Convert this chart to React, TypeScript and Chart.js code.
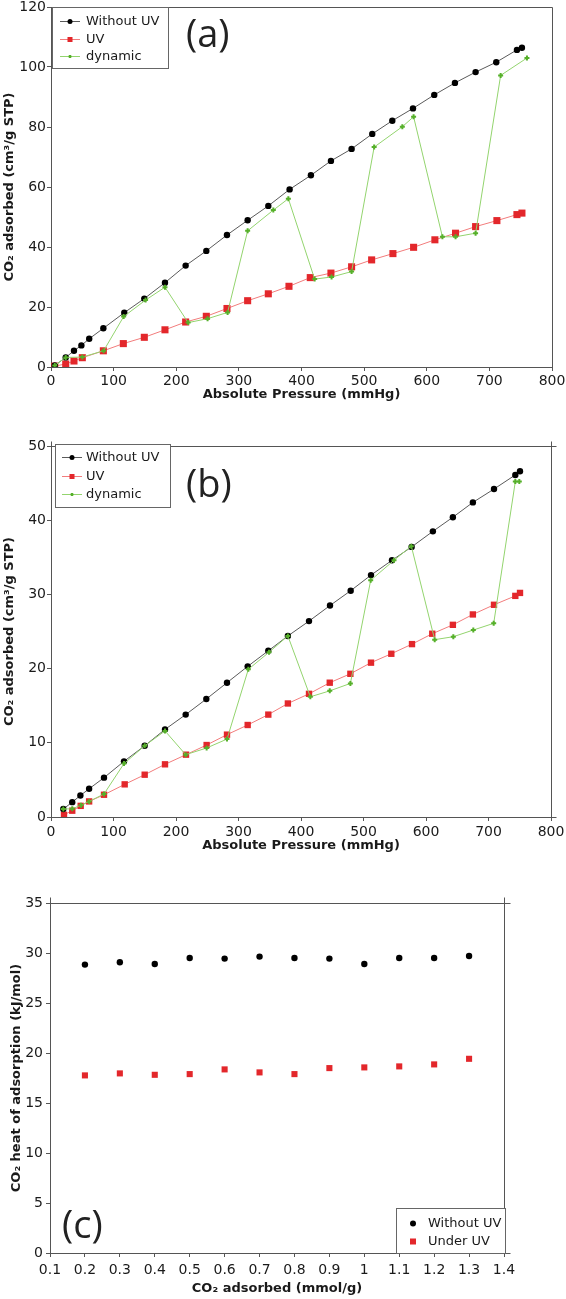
import React, { useEffect, useRef } from "react";
import { Chart, registerables } from "chart.js";
Chart.register(...registerables);

// ---------- Panel (a) ----------
const aPressureWithout = [6, 23.5, 36.7, 48.5, 61, 83.6, 117, 149, 182, 215, 248, 281, 314, 347, 381, 415, 447, 480, 513, 545, 578, 612, 645, 678, 711, 744, 752];
const aWithoutUV = [0.5, 3.2, 5.4, 7.2, 9.4, 12.9, 18.1, 22.8, 28.1, 33.8, 38.7, 44, 48.9, 53.7, 59.2, 63.9, 68.7, 72.7, 77.7, 82.1, 86.2, 90.7, 94.7, 98.3, 101.6, 105.7, 106.4];
const aPressureUV = [6, 23.5, 36.7, 50, 83.6, 115.5, 149, 182, 215, 248, 281, 314, 347, 380, 414, 447, 480, 512, 546, 579, 613, 646, 678, 712, 744, 752];
const aUV = [0.3, 1, 2, 3.1, 5.4, 7.8, 9.9, 12.4, 15, 16.9, 19.5, 22.1, 24.4, 26.9, 29.8, 31.3, 33.4, 35.7, 37.8, 39.9, 42.4, 44.6, 46.8, 48.8, 50.8, 51.3];
const aPressureDynamic = [6, 23.5, 50, 84, 116, 151, 182, 219, 250, 282, 314, 355, 379, 421, 448, 480, 516, 561, 579, 625, 646, 678, 718, 760];
const aDynamic = [0.5, 3.2, 3.3, 5.4, 16.8, 22.3, 26.6, 14.8, 16.1, 18.2, 45.4, 52.3, 56.1, 29.3, 30, 31.8, 73.3, 80.1, 83.4, 43.4, 43.4, 44.6, 97.2, 103];
const aXTicks = [0, 100, 200, 300, 400, 500, 600, 700, 800];
const aYTicks = [0, 20, 40, 60, 80, 100, 120];

// ---------- Panel (b) ----------
const bPressureWithout = [19.7, 34, 47, 61, 84.8, 116.8, 149.9, 182.4, 215.5, 248.5, 281.6, 314.7, 347.7, 379, 412.8, 446.4, 479.5, 512, 545.6, 577, 611, 643, 675, 708.8, 742.9, 750.4];
const bWithoutUV = [1.08, 2.0, 2.9, 3.8, 5.3, 7.5, 9.6, 11.8, 13.8, 15.9, 18.1, 20.3, 22.4, 24.4, 26.4, 28.5, 30.5, 32.6, 34.6, 36.4, 38.5, 40.4, 42.4, 44.2, 46.1, 46.6];
const bPressureUV = [20.8, 34, 47.5, 61, 84.8, 117.9, 149.9, 182.4, 216, 249, 281.6, 314.7, 347.7, 379, 412.8, 446, 479, 512, 544.5, 577.6, 610, 643, 675, 708.8, 742.9, 750.4];
const bUV = [0.3, 0.85, 1.5, 2.1, 3.0, 4.4, 5.7, 7.1, 8.4, 9.7, 11.1, 12.4, 13.8, 15.3, 16.6, 18.1, 19.3, 20.8, 22.0, 23.3, 24.7, 25.9, 27.3, 28.6, 29.8, 30.2];
const bPressureDynamic = [19.7, 34, 48, 61, 84.8, 116.8, 149.9, 182.4, 215.5, 249, 281.6, 315.7, 348.8, 379, 414.9, 446, 479, 511.5, 548.8, 576.5, 613.9, 643.7, 675.7, 708.3, 742.9, 749.3];
const bDynamic = [1.08, 1.1, 1.6, 2.1, 3.1, 7.2, 9.6, 11.6, 8.4, 9.3, 10.5, 19.9, 22.2, 24.4, 16.2, 17.0, 18.0, 31.9, 34.6, 36.5, 23.9, 24.3, 25.2, 26.1, 45.2, 45.2];
const bXTicks = [0, 100, 200, 300, 400, 500, 600, 700, 800];
const bYTicks = [0, 10, 20, 30, 40, 50];

// ---------- Panel (c) ----------
const cAdsorbed = [0.2, 0.3, 0.4, 0.5, 0.6, 0.7, 0.8, 0.9, 1.0, 1.1, 1.2, 1.3];
const cWithoutUV = [28.84, 29.07, 28.9, 29.5, 29.44, 29.64, 29.5, 29.44, 28.9, 29.5, 29.5, 29.7];
const cUnderUV = [17.76, 17.96, 17.82, 17.89, 18.36, 18.06, 17.89, 18.49, 18.56, 18.66, 18.86, 19.42];
const cXTicks = [0.1, 0.2, 0.3, 0.4, 0.5, 0.6, 0.7, 0.8, 0.9, 1.0, 1.1, 1.2, 1.3, 1.4];
const cYTicks = [0, 5, 10, 15, 20, 25, 30, 35];

// ---------- styles ----------
const FONT = "'DejaVu Sans', sans-serif";
const LABEL_FONT = "'Open Sans', sans-serif";
const AXIS = "#555";
const TEXT = "#1a1a1a";
const BLACK_LINE = "#5a5a5a";
const BLACK_PT = "#000000";
const RED_LINE = "#f27c7c";
const RED_PT = "#e3272b";
const GREEN_LINE = "#93d46e";
const GREEN_PT = "#56b02a";

const pts = (xs: number[], ys: number[]) => xs.map((x, i) => ({ x, y: ys[i] }));
const fmt = (v: number) => String(Math.round(v * 100) / 100);

function axis(o: {
  pos: "bottom" | "left";
  min: number;
  max: number;
  ticks: number[];
  size: number;
  title: string;
  titlePad: number;
  tickPad: number;
}) {
  const horizontal = o.pos === "bottom";
  return {
    type: "linear",
    position: o.pos,
    min: o.min,
    max: o.max,
    afterBuildTicks: (s: any) => {
      s.ticks = o.ticks.map((v) => ({ value: v }));
    },
    afterFit: (s: any) => {
      if (horizontal) s.height = o.size;
      else s.width = o.size;
      s.paddingLeft = 0;
      s.paddingRight = 0;
      s.paddingTop = 0;
      s.paddingBottom = 0;
    },
    grid: { display: true, drawOnChartArea: false, drawTicks: true, tickLength: 4, color: AXIS, lineWidth: 1 },
    border: { display: true, color: AXIS, width: 1 },
    ticks: {
      color: TEXT,
      font: { family: FONT, size: 14 },
      padding: o.tickPad,
      autoSkip: false,
      maxRotation: 0,
      minRotation: 0,
      callback: (v: any) => fmt(Number(v)),
    },
    title: {
      display: true,
      text: o.title,
      color: TEXT,
      font: { family: FONT, size: 13, weight: "bold" },
      padding: horizontal ? { top: 0, bottom: o.titlePad } : { top: o.titlePad, bottom: 0 },
    },
  };
}

type Item = { text: string; marker: "circle" | "rect" | "cross"; color: string; line?: string; size: number };

function drawMarker(ctx: CanvasRenderingContext2D, m: Item["marker"], x: number, y: number, size: number, color: string) {
  ctx.fillStyle = color;
  ctx.strokeStyle = color;
  if (m === "circle") {
    ctx.beginPath();
    ctx.arc(x, y, size, 0, Math.PI * 2);
    ctx.fill();
  } else if (m === "rect") {
    ctx.fillRect(x - size, y - size, size * 2, size * 2);
  } else {
    ctx.lineWidth = 2;
    ctx.beginPath();
    ctx.moveTo(x - size, y);
    ctx.lineTo(x + size, y);
    ctx.moveTo(x, y - size);
    ctx.lineTo(x, y + size);
    ctx.stroke();
  }
}

function decor(d: {
  label: string;
  labelX: number;
  labelY: number;
  ext: number;
  box: [number, number, number, number];
  rows: number[];
  markerX: number;
  textX: number;
  lineHalf: number;
  items: Item[];
}) {
  return {
    id: "decor",
    afterDraw(chart: any) {
      const ctx: CanvasRenderingContext2D = chart.ctx;
      const a = chart.chartArea;
      const L = Math.round(a.left) + 0.5;
      const R = Math.round(a.right) + 0.5;
      const T = Math.round(a.top) + 0.5;
      const B = Math.round(a.bottom) + 0.5;
      ctx.save();
      ctx.strokeStyle = AXIS;
      ctx.lineWidth = 1;
      ctx.beginPath();
      ctx.moveTo(L, T);
      ctx.lineTo(R + d.ext, T);
      ctx.moveTo(R, T - d.ext);
      ctx.lineTo(R, B);
      ctx.moveTo(L, T);
      ctx.lineTo(L, T - d.ext);
      ctx.moveTo(R, B);
      ctx.lineTo(R + d.ext, B);
      ctx.stroke();

      // panel label
      ctx.font = `38px ${LABEL_FONT}`;
      ctx.fillStyle = "#222";
      ctx.textAlign = "left";
      ctx.textBaseline = "middle";
      ctx.fillText(d.label, d.labelX, d.labelY);

      // legend
      const [bx, by, bw, bh] = d.box;
      ctx.fillStyle = "#fff";
      ctx.fillRect(bx, by, bw, bh);
      ctx.strokeStyle = "#666";
      ctx.lineWidth = 1;
      ctx.strokeRect(bx + 0.5, by + 0.5, bw, bh);
      d.items.forEach((it, i) => {
        const y = by + d.rows[i];
        const mx = bx + d.markerX;
        if (it.line) {
          ctx.strokeStyle = it.line;
          ctx.lineWidth = 1;
          ctx.beginPath();
          ctx.moveTo(mx - d.lineHalf, y + 0.5);
          ctx.lineTo(mx + d.lineHalf, y + 0.5);
          ctx.stroke();
        }
        drawMarker(ctx, it.marker, mx, y + 0.5, it.size, it.color);
        ctx.fillStyle = TEXT;
        ctx.font = `13px ${FONT}`;
        ctx.textAlign = "left";
        ctx.textBaseline = "middle";
        ctx.fillText(it.text, bx + d.textX, y + 1);
      });
      ctx.restore();
    },
  };
}

const lineDs = (label: string, data: any[], line: string, pt: string, style: string, r: number, order: number) => ({
  label,
  data,
  borderColor: line,
  borderWidth: 1,
  backgroundColor: pt,
  pointStyle: style,
  pointRadius: r,
  pointHoverRadius: r,
  pointBackgroundColor: pt,
  pointBorderColor: pt,
  pointBorderWidth: style === "cross" ? 2 : 0,
  tension: 0,
  fill: false,
  order,
});

const isothermItems = (): Item[] => [
  { text: "Without UV", marker: "circle", color: BLACK_PT, line: BLACK_LINE, size: 2.5 },
  { text: "UV", marker: "rect", color: RED_PT, line: RED_LINE, size: 2.5 },
  { text: "dynamic", marker: "cross", color: GREEN_PT, line: GREEN_LINE, size: 1.5 },
];

function buildA() {
  return {
    type: "line",
    data: {
      datasets: [
        lineDs("Without UV", pts(aPressureWithout, aWithoutUV), BLACK_LINE, BLACK_PT, "circle", 3.2, 1),
        lineDs("UV", pts(aPressureUV, aUV), RED_LINE, RED_PT, "rect", 5, 2),
        lineDs("dynamic", pts(aPressureDynamic, aDynamic), GREEN_LINE, GREEN_PT, "cross", 2.5, 0),
      ],
    },
    options: {
      animation: false,
      responsive: false,
      devicePixelRatio: 1,
      layout: { padding: { left: 0, top: 7, right: 14, bottom: 0 } },
      plugins: { legend: { display: false }, tooltip: { enabled: false } },
      scales: {
        x: axis({ pos: "bottom", min: 0, max: 800, ticks: aXTicks, size: 38, title: "Absolute Pressure (mmHg)", titlePad: 2.2, tickPad: 2 }),
        y: axis({ pos: "left", min: 0, max: 120, ticks: aYTicks, size: 51, title: "CO₂ adsorbed (cm³/g STP)", titlePad: 1.5, tickPad: 1 }),
      },
    },
    plugins: [
      decor({
        label: "(a)",
        labelX: 186,
        labelY: 36,
        ext: 0,
        box: [52, 7, 116, 61],
        rows: [14, 32, 49],
        markerX: 18,
        textX: 34,
        lineHalf: 10,
        items: isothermItems(),
      }),
    ],
  };
}

function buildB() {
  return {
    type: "line",
    data: {
      datasets: [
        lineDs("Without UV", pts(bPressureWithout, bWithoutUV), BLACK_LINE, BLACK_PT, "circle", 3.2, 1),
        lineDs("UV", pts(bPressureUV, bUV), RED_LINE, RED_PT, "rect", 4.5, 2),
        lineDs("dynamic", pts(bPressureDynamic, bDynamic), GREEN_LINE, GREEN_PT, "cross", 2.5, 0),
      ],
    },
    options: {
      animation: false,
      responsive: false,
      devicePixelRatio: 1,
      layout: { padding: { left: 0, top: 41, right: 15, bottom: 0 } },
      plugins: { legend: { display: false }, tooltip: { enabled: false } },
      scales: {
        x: axis({ pos: "bottom", min: 0, max: 800, ticks: bXTicks, size: 43, title: "Absolute Pressure (mmHg)", titlePad: 6.2, tickPad: 3 }),
        y: axis({ pos: "left", min: 0, max: 50, ticks: bYTicks, size: 51, title: "CO₂ adsorbed (cm³/g STP)", titlePad: 2, tickPad: 1 }),
      },
    },
    plugins: [
      decor({
        label: "(b)",
        labelX: 186,
        labelY: 81,
        ext: 5,
        box: [55, 39, 115, 63],
        rows: [13, 32, 50],
        markerX: 17,
        textX: 31,
        lineHalf: 10,
        items: isothermItems(),
      }),
    ],
  };
}

function buildC() {
  return {
    type: "scatter",
    data: {
      datasets: [
        {
          label: "Without UV",
          data: pts(cAdsorbed, cWithoutUV),
          showLine: false,
          pointStyle: "circle",
          pointRadius: 3.2,
          pointHoverRadius: 3.2,
          backgroundColor: BLACK_PT,
          borderColor: BLACK_PT,
          pointBorderWidth: 0,
        },
        {
          label: "Under UV",
          data: pts(cAdsorbed, cUnderUV),
          showLine: false,
          pointStyle: "rect",
          pointRadius: 4.3,
          pointHoverRadius: 4.3,
          backgroundColor: RED_PT,
          borderColor: RED_PT,
          pointBorderWidth: 0,
        },
      ],
    },
    options: {
      animation: false,
      responsive: false,
      devicePixelRatio: 1,
      layout: { padding: { left: 0, top: 43, right: 62, bottom: 0 } },
      plugins: { legend: { display: false }, tooltip: { enabled: false } },
      scales: {
        x: axis({ pos: "bottom", min: 0.1, max: 1.4, ticks: cXTicks, size: 46, title: "CO₂ adsorbed (mmol/g)", titlePad: 2.2, tickPad: 5 }),
        y: axis({ pos: "left", min: 0, max: 35, ticks: cYTicks, size: 50, title: "CO₂ heat of adsorption (kJ/mol)", titlePad: 9, tickPad: 3 }),
      },
    },
    plugins: [
      decor({
        label: "(c)",
        labelX: 62,
        labelY: 367,
        ext: 6,
        box: [396, 348, 109, 45],
        rows: [15, 33],
        markerX: 17,
        textX: 32,
        lineHalf: 0,
        items: [
          { text: "Without UV", marker: "circle", color: BLACK_PT, size: 3 },
          { text: "Under UV", marker: "rect", color: RED_PT, size: 3 },
        ],
      }),
    ],
  };
}

function Panel({ top, height, build }: { top: number; height: number; build: () => any }) {
  const ref = useRef<HTMLCanvasElement>(null);
  useEffect(() => {
    if (!ref.current) return;
    const chart = new Chart(ref.current, build());
    return () => chart.destroy();
  }, [build]);
  return (
    <canvas
      ref={ref}
      width={566}
      height={height}
      style={{ position: "absolute", left: 0, top, width: 566, height, display: "block" }}
    />
  );
}

export default function App() {
  return (
    <div style={{ position: "absolute", left: 0, top: 0, width: 566, height: 1299, background: "#fff" }}>
      <Panel top={0} height={405} build={buildA} />
      <Panel top={405} height={455} build={buildB} />
      <Panel top={860} height={439} build={buildC} />
    </div>
  );
}
